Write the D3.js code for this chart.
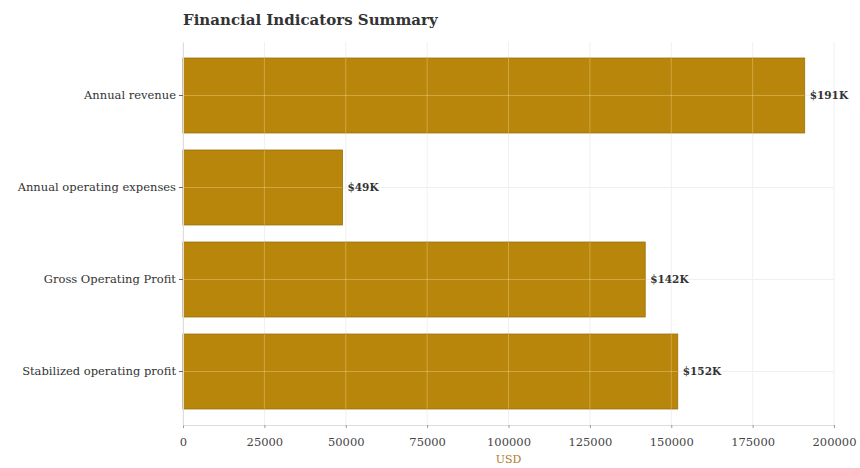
<!DOCTYPE html>
<html>
<head>
<meta charset="utf-8">
<script src="https://cdn.jsdelivr.net/npm/d3@7"></script>
<style>
  body { margin: 0; background: #fff; }
  svg { display: block; font-family: Georgia, "DejaVu Serif", serif; }
</style>
</head>
<body>
<svg id="chart" width="860" height="468"></svg>
<script>
// Financial indicators (USD)
const categories = [
  "Annual revenue",
  "Annual operating expenses",
  "Gross Operating Profit",
  "Stabilized operating profit"
];
const values = [191000, 49000, 142000, 152000];
const valueLabels = ["$191K", "$49K", "$142K", "$152K"];
const xTicks = [0, 25000, 50000, 75000, 100000, 125000, 150000, 175000, 200000];

const svg = d3.select("#chart");
const margin = { top: 42, right: 26, bottom: 43, left: 183 };
const W = 860, H = 468;

const x = d3.scaleLinear().domain([0, 200000]).range([margin.left, W - margin.right]);
const y = d3.scaleBand().domain(categories)
  .range([margin.top, H - margin.bottom])
  .paddingInner(0.185).paddingOuter(0.174);

// title
svg.append("text")
  .attr("x", margin.left).attr("y", 25)
  .attr("font-size", 15).attr("font-weight", "bold").attr("fill", "#333")
  .text("Financial Indicators Summary");

// faint grid behind bars
const grid = svg.append("g").attr("stroke", "#f0f0f0");
grid.selectAll("line.v").data(xTicks).join("line")
  .attr("x1", d => x(d)).attr("x2", d => x(d))
  .attr("y1", margin.top).attr("y2", H - margin.bottom);
grid.selectAll("line.h").data(categories).join("line")
  .attr("x1", x(0)).attr("x2", W - margin.right)
  .attr("y1", d => y(d) + y.bandwidth() / 2).attr("y2", d => y(d) + y.bandwidth() / 2);

// bars
const barY = (d, i) => y(categories[i]);
const barW = d => x(d) - x(0);
svg.append("g").selectAll("rect").data(values).join("rect")
  .attr("x", x(0)).attr("y", barY)
  .attr("width", barW).attr("height", y.bandwidth())
  .attr("fill", "#b8860b")
  .attr("stroke", "#9a7009").attr("stroke-width", 0.8);

// grid lines showing through the bars
const clip = svg.append("clipPath").attr("id", "bars-clip");
clip.selectAll("rect").data(values).join("rect")
  .attr("x", x(0)).attr("y", barY)
  .attr("width", barW).attr("height", y.bandwidth());
const over = svg.append("g").attr("clip-path", "url(#bars-clip)")
  .attr("stroke", "#ffe3a0").attr("stroke-opacity", 0.35);
over.selectAll("line.v").data(xTicks).join("line")
  .attr("x1", d => x(d)).attr("x2", d => x(d))
  .attr("y1", margin.top).attr("y2", H - margin.bottom);
over.selectAll("line.h").data(categories).join("line")
  .attr("x1", x(0)).attr("x2", W - margin.right)
  .attr("y1", d => y(d) + y.bandwidth() / 2).attr("y2", d => y(d) + y.bandwidth() / 2);

// value labels
svg.append("g").selectAll("text").data(values).join("text")
  .attr("x", d => x(d) + 5)
  .attr("y", (d, i) => y(categories[i]) + y.bandwidth() / 2)
  .attr("dy", "0.35em")
  .attr("font-size", 10.5).attr("font-weight", "bold").attr("fill", "#333")
  .text((d, i) => valueLabels[i]);

// x axis
const xAxis = svg.append("g")
  .attr("transform", `translate(0,${H - margin.bottom})`)
  .call(d3.axisBottom(x).tickValues(xTicks).tickFormat(d3.format("d")).tickSize(3).tickSizeOuter(0))
  .attr("font-family", null).attr("font-size", null);
xAxis.select(".domain").attr("stroke", "#ddd");
xAxis.selectAll(".tick line").attr("stroke", "#999");
xAxis.selectAll("text").attr("font-size", 11.5).attr("fill", "#444").attr("dy", "1.3em");

// y axis
const yAxis = svg.append("g")
  .attr("transform", `translate(${margin.left},0)`)
  .call(d3.axisLeft(y).tickSize(4).tickSizeOuter(0))
  .attr("font-family", null).attr("font-size", null);
yAxis.select(".domain").attr("stroke", "#ddd");
yAxis.selectAll(".tick line").attr("stroke", "#666");
yAxis.selectAll("text").attr("font-size", 11.5).attr("fill", "#333");

// axis title
svg.append("text")
  .attr("x", x(100000)).attr("y", 463)
  .attr("text-anchor", "middle").attr("font-size", 11).attr("fill", "#b07a2a")
  .text("USD");
</script>
</body>
</html>
